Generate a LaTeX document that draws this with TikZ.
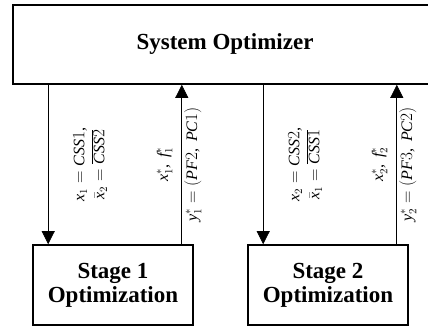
\documentclass[tikz,border=0pt]{standalone}
\usepackage{fontspec}
\setmainfont{Liberation Serif}
% math letters and digits in the text face
\DeclareSymbolFont{letters}{TU}{\rmdefault}{m}{it}
\DeclareSymbolFont{operators}{TU}{\rmdefault}{m}{n}
\mathcode`,="612C
\usetikzlibrary{arrows.meta}
\tikzset{
    optbox/.style={draw, line width=1.6pt, align=center, inner sep=0pt,
        font=\fontsize{23}{24}\selectfont\bfseries},
    lbl/.style={font=\fontsize{16}{20}\selectfont, align=center, inner sep=2pt}
}
\begin{document}
\begin{tikzpicture}[>={Triangle[width=13pt,length=13pt]}, x=1pt, y=1pt]
\useasboundingbox (0,0) rectangle (428,327);
\node[optbox, minimum width=424pt, minimum height=79pt] (sys) at (225,282.5) {System Optimizer};
\node[optbox, minimum width=160pt, minimum height=80pt] (st1) at (113,42) {Stage 1\\Optimization};
\node[optbox, minimum width=160pt, minimum height=80pt] (st2) at (328,42) {Stage 2\\Optimization};
\foreach \s/\o [evaluate=\s as \f using int(\s+1)] in {1/2, 2/1}
{
    \coordinate (dn\s) at ([xshift=16pt]st\s.north west);
    \coordinate (up\s) at ([xshift=-12pt]st\s.north east);
    \draw[->, line width=0.7pt](dn\s |- sys.south)--(dn\s)
        node[midway, xshift=42pt, rotate=90, lbl]{$x_\s=CSS\s,$\\$\bar{x}_\o=\overline{CSS\o}$};
    \draw[->, line width=0.7pt](up\s)--(up\s |- sys.south)
        node[midway, sloped, above=7pt, lbl]{$x_\s^*,\ f_\s^*$}
        node[midway, sloped, below=0pt, lbl]{$y_\s^*=(PF\f,\ PC\s)$};
}
\end{tikzpicture}
\end{document}
